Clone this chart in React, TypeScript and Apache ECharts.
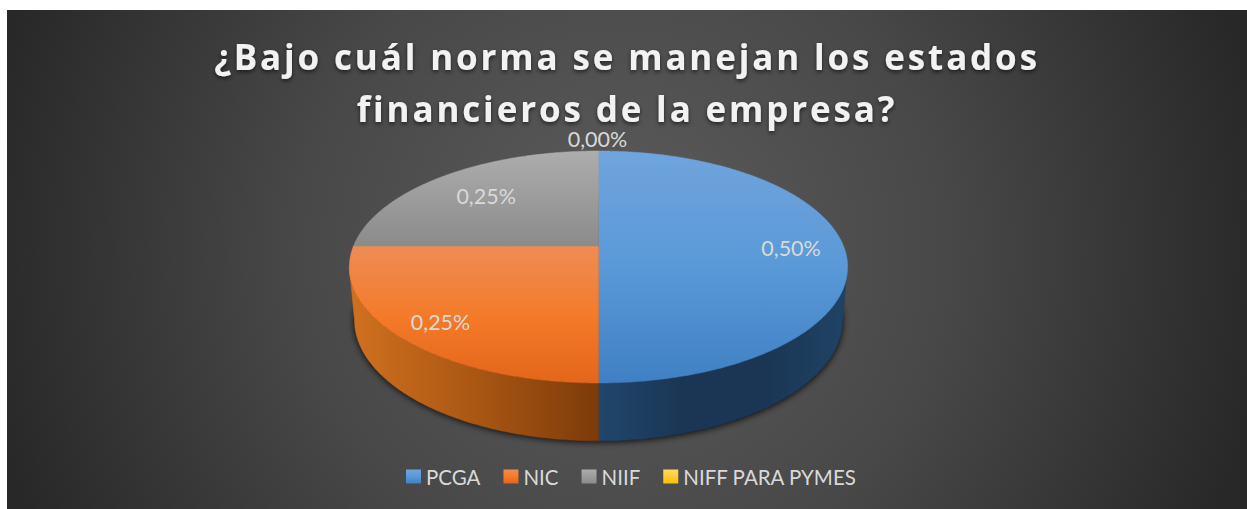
import React, { useEffect, useRef } from "react";
import * as echarts from "echarts";

const TITLE = "¿Bajo cuál norma se manejan los estados\nfinancieros de la empresa?";
const categories = ["PCGA", "NIC", "NIIF", "NIFF PARA PYMES"];
const shares = [0.5, 0.25, 0.25, 0];

const W = 1247;
const H = 509;
const CX = 598.5;
const SKEW = 0.181;
const TOP_RIM = { y: 246, a: 112.2, c: 245 };
const LOW_RIM = { y: 298, a: 117, c: 240 };

const LABEL_RADIUS = 0.79;
const LABEL_NUDGE = [
  [-1, 2],
  [-1, 4],
  [9, 6],
  [-1, -1],
];

const grad = (stops: string[], horizontal = false) =>
  new echarts.graphic.LinearGradient(
    0,
    0,
    horizontal ? 1 : 0,
    horizontal ? 0 : 1,
    stops.map((color, i) => ({ offset: i / (stops.length - 1), color }))
  );

const faceFill = [
  ["#70a4dc", "#5a99d8", "#3f80c4"],
  ["#ee8c56", "#f47b2a", "#e3661a"],
  ["#adadad", "#9c9c9c", "#8b8b8b"],
  ["#ffd966", "#ffc000"],
];
const wallFill = [
  ["#21466c", "#1a3654", "#1a3654", "#204364"],
  ["#d0711f", "#aa5713", "#7c3b0a"],
  ["#777777", "#555555"],
  ["#a07800", "#805f00"],
];

const rim = (r: typeof TOP_RIM, t: number, rho = 1) => {
  const w = 1 + SKEW * Math.cos(t);
  return [CX + (r.c * rho * Math.sin(t)) / w, r.y - (r.a * rho * Math.cos(t)) / w];
};

const arcPts = (r: typeof TOP_RIM, from: number, to: number) => {
  const n = Math.max(2, Math.ceil(Math.abs(to - from) / 0.01));
  const out: number[][] = [];
  for (let i = 0; i <= n; i++) out.push(rim(r, from + ((to - from) * i) / n));
  return out;
};

const startShare = (idx: number) => shares.slice(0, idx).reduce((a, b) => a + b, 0);
const total = shares.reduce((a, b) => a + b, 0);
const HIDE_FROM = Math.acos(-SKEW);
const HIDE_TO = 2 * Math.PI - HIDE_FROM;

const sliceRender = (idx: number) => (_: any, api: any) => {
  const value = api.value(0);
  const t0 = (startShare(idx) / total) * 2 * Math.PI;
  const t1 = t0 + (value / total) * 2 * Math.PI;
  const children: any[] = [];
  const a0 = Math.max(t0, HIDE_FROM);
  const a1 = Math.min(t1, HIDE_TO);
  if (a1 > a0) {
    const g = grad(wallFill[idx], true);
    children.push({
      type: "polygon",
      shape: { points: [...arcPts(TOP_RIM, a0, a1), ...arcPts(LOW_RIM, a1, a0)] },
      style: { fill: g, stroke: g, lineWidth: 0.5 },
    });
  }
  if (value > 0) {
    const g = grad(faceFill[idx]);
    children.push({
      type: "polygon",
      shape: { points: [[CX, TOP_RIM.y], ...arcPts(TOP_RIM, t0, t1)] },
      style: { fill: g, stroke: g, lineWidth: 0.5 },
    });
  }
  const mid = (t0 + t1) / 2;
  const p = value > 0 ? rim(TOP_RIM, mid, LABEL_RADIUS) : rim(TOP_RIM, mid, 1.116);
  children.push({
    type: "text",
    z2: 10,
    style: {
      text: `${value.toFixed(2).replace(".", ",")}%`,
      x: p[0] + LABEL_NUDGE[idx][0],
      y: p[1] + LABEL_NUDGE[idx][1],
      align: "center",
      verticalAlign: "middle",
      fill: "#d9d9d9",
      font: "400 21.5px Lato",
    },
  });
  return { type: "group", children };
};

const shadowRender = () => ({
  type: "polygon",
  shape: { points: arcPts(LOW_RIM, 0, 2 * Math.PI) },
  style: { fill: "#111", shadowBlur: 7, shadowColor: "rgba(0,0,0,0.9)", shadowOffsetY: 1 },
});

export default function App() {
  const ref = useRef<HTMLDivElement>(null);
  useEffect(() => {
    document.body.style.margin = "0";
    document.body.style.background = "#fff";
    const chart = echarts.init(ref.current!, null, { renderer: "svg" });
    chart.setOption({
      animation: false,
      backgroundColor: "#fff",
      graphic: [
        {
          type: "rect",
          silent: true,
          z: -10,
          shape: { x: 7, y: 10, width: W - 7, height: H - 10 },
          style: {
            fill: new echarts.graphic.RadialGradient(
              622,
              250,
              650,
              [
                { offset: 0, color: "#5c5c5c" },
                { offset: 0.5, color: "#484848" },
                { offset: 1, color: "#282828" },
              ],
              true
            ),
          },
        },
      ],
      title: {
        text: TITLE,
        left: 622,
        top: 25,
        textAlign: "center",
        textStyle: {
          color: "#f2f2f2",
          fontFamily: "Open Sans",
          fontWeight: 700,
          fontSize: 35,
          lineHeight: 52,
          textShadowColor: "rgba(0,0,0,0.6)",
          textShadowBlur: 4,
          textShadowOffsetY: 2,
        },
      },
      legend: {
        data: categories,
        left: 401,
        top: 461,
        icon: "rect",
        itemWidth: 15,
        itemHeight: 14,
        itemGap: 23,
        textStyle: { color: "#d9d9d9", fontFamily: "Lato", fontSize: 20.5 },
        selectedMode: false,
      },
      series: [
        {
          type: "custom",
          name: "sombra",
          coordinateSystem: "none",
          silent: true,
          z: 1,
          data: [0],
          renderItem: shadowRender,
        },
        ...categories.map((name, i) => ({
          type: "custom",
          name,
          coordinateSystem: "none",
          silent: true,
          z: 2,
          itemStyle: { color: grad(faceFill[i]) },
          data: [shares[i]],
          renderItem: sliceRender(i),
        })),
      ],
    });
    ref.current!.querySelectorAll("text").forEach((t) => {
      const s = t.getAttribute("style") || "";
      if (/35px/.test(s)) (t as any).style.letterSpacing = "2.85px";
    });
    return () => chart.dispose();
  }, []);
  return <div ref={ref} style={{ width: W, height: H }} />;
}
